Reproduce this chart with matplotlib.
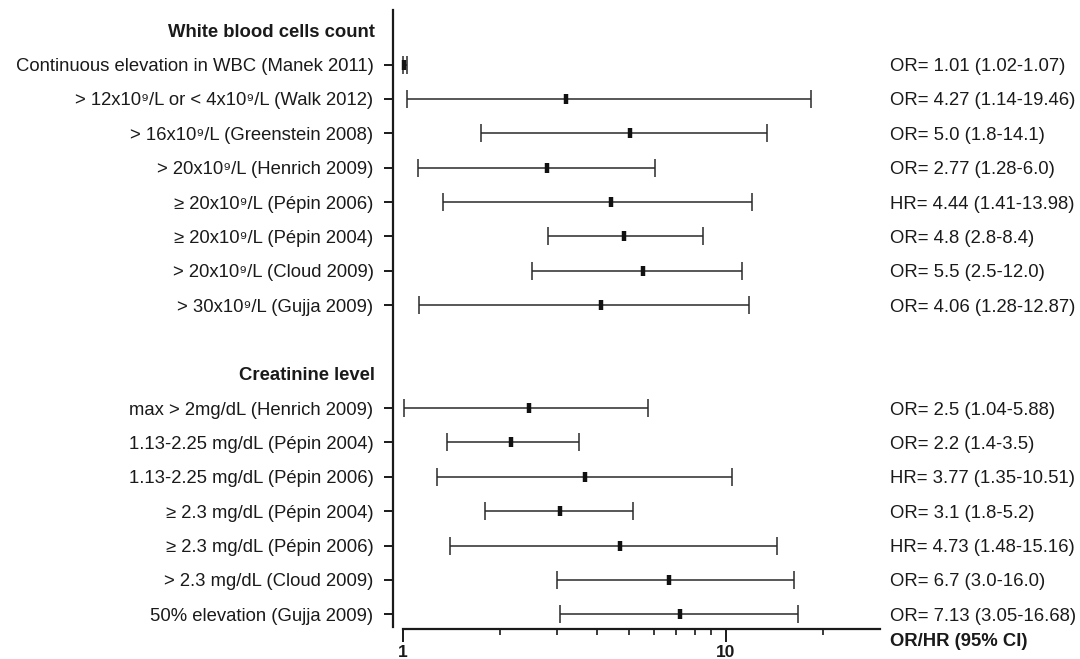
import matplotlib
matplotlib.use("Agg")
import matplotlib.pyplot as plt
import matplotlib.transforms as mtransforms
from matplotlib.ticker import FixedLocator, NullFormatter, FixedFormatter

plt.rcParams["font.family"] = ["Liberation Sans", "DejaVu Sans"]

# white blood cell studies
wbc_labels = [
    "Continuous elevation in WBC (Manek 2011)",
    "> 12x10\u2079/L or < 4x10\u2079/L (Walk 2012)",
    "> 16x10\u2079/L (Greenstein 2008)",
    "> 20x10\u2079/L (Henrich 2009)",
    "\u2265 20x10\u2079/L (P\u00e9pin 2006)",
    "\u2265 20x10\u2079/L (P\u00e9pin 2004)",
    "> 20x10\u2079/L (Cloud 2009)",
    "> 30x10\u2079/L (Gujja 2009)",
]
wbc_est = [1.01, 3.20, 5.04, 2.80, 4.40, 4.83, 5.53, 4.10]
wbc_lo = [1.00, 1.033, 1.745, 1.115, 1.336, 2.81, 2.52, 1.121]
wbc_hi = [1.03, 18.4, 13.4, 6.05, 12.04, 8.51, 11.19, 11.79]
wbc_text = [
    "OR= 1.01 (1.02-1.07)",
    "OR= 4.27 (1.14-19.46)",
    "OR= 5.0 (1.8-14.1)",
    "OR= 2.77 (1.28-6.0)",
    "HR= 4.44 (1.41-13.98)",
    "OR= 4.8 (2.8-8.4)",
    "OR= 5.5 (2.5-12.0)",
    "OR= 4.06 (1.28-12.87)",
]

# creatinine studies
cr_labels = [
    "max > 2mg/dL (Henrich 2009)",
    "1.13-2.25 mg/dL (P\u00e9pin 2004)",
    "1.13-2.25 mg/dL (P\u00e9pin 2006)",
    "\u2265 2.3 mg/dL (P\u00e9pin 2004)",
    "\u2265 2.3 mg/dL (P\u00e9pin 2006)",
    "> 2.3 mg/dL (Cloud 2009)",
    "50% elevation (Gujja 2009)",
]
cr_est = [2.46, 2.16, 3.66, 3.07, 4.69, 6.68, 7.20]
cr_lo = [1.007, 1.372, 1.28, 1.80, 1.40, 3.01, 3.06]
cr_hi = [5.75, 3.52, 10.44, 5.16, 14.43, 16.30, 16.72]
cr_text = [
    "OR= 2.5 (1.04-5.88)",
    "OR= 2.2 (1.4-3.5)",
    "HR= 3.77 (1.35-10.51)",
    "OR= 3.1 (1.8-5.2)",
    "HR= 4.73 (1.48-15.16)",
    "OR= 6.7 (3.0-16.0)",
    "OR= 7.13 (3.05-16.68)",
]

groups = [
    ("White blood cells count", wbc_labels, wbc_est, wbc_lo, wbc_hi, wbc_text),
    ("Creatinine level", cr_labels, cr_est, cr_lo, cr_hi, cr_text),
]

fs = 13.3
fig = plt.figure(figsize=(10.8, 6.59), dpi=100)
ax = fig.add_axes([393 / 1080, 30 / 659, 487 / 1080, 619 / 659])

tc = "#1a1a1a"
trans_r = mtransforms.blended_transform_factory(ax.transAxes, ax.transData)

row = 0
ytick_pos, ytick_lab = [], []
for title, labels, est, lo, hi, txt in groups:
    ax.text(-0.037, row, title, transform=trans_r, ha="right",
            va="center_baseline", fontsize=fs, fontweight="bold", color=tc)
    row += 1
    for lab, e, l, h, t in zip(labels, est, lo, hi, txt):
        ax.errorbar([e], [row], xerr=[[e - l], [h - e]], fmt="none",
                    ecolor="#2a2a2a", elinewidth=1.1, capsize=6.5, capthick=1.1)
        ax.plot([e], [row], marker="|", markersize=7.5, markeredgewidth=3.2,
                color="#111111", linestyle="none")
        ax.text(1.02, row, t, transform=trans_r, ha="left",
                va="center_baseline", fontsize=fs, color=tc)
        ytick_pos.append(row)
        ytick_lab.append(lab)
        row += 1
    row += 1  # blank gap before next group

ax.set_xscale("log")
ax.set_xlim(0.933, 30)
ax.set_ylim(17.43, -0.59)

ax.set_yticks(ytick_pos)
ax.set_yticklabels(ytick_lab, fontsize=fs, color=tc)
ax.tick_params(axis="y", direction="out", length=6.5, width=1.4, pad=7.5, colors=tc)

ax.xaxis.set_major_locator(FixedLocator([1, 10]))
ax.xaxis.set_major_formatter(FixedFormatter(["1", "10"]))
ax.xaxis.set_minor_locator(FixedLocator([2, 3, 4, 5, 6, 7, 8, 9, 20]))
ax.xaxis.set_minor_formatter(NullFormatter())
ax.tick_params(axis="x", which="major", length=9.2, width=1.4, pad=2, colors=tc,
               labelsize=12.5)
ax.tick_params(axis="x", which="minor", length=4, width=1.2, colors=tc)
for lbl in ax.get_xticklabels():
    lbl.set_fontweight("bold")

for side in ["top", "right"]:
    ax.spines[side].set_visible(False)
ax.spines["left"].set_linewidth(1.6)
ax.spines["bottom"].set_linewidth(1.6)
ax.spines["left"].set_color(tc)
ax.spines["bottom"].set_color(tc)
ax.spines["bottom"].set_bounds(1, 30)
ax.spines["left"].set_bounds(17.37, -0.59)

ax.annotate("OR/HR (95% CI)", xy=(1.02, 0), xycoords="axes fraction",
            xytext=(0, -9), textcoords="offset points", ha="left", va="center",
            fontsize=fs, fontweight="bold", color=tc)

fig.savefig("out.png", dpi=100)
